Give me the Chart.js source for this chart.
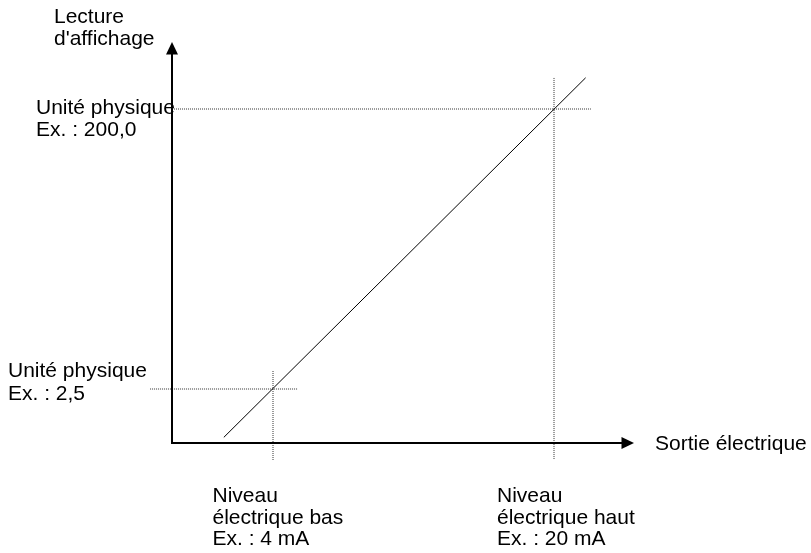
<!DOCTYPE html>
<html>
<head>
<meta charset="utf-8">
<script src="https://cdn.jsdelivr.net/npm/chart.js@4/dist/chart.umd.min.js"></script>
<style>
  body { margin: 0; background: #fff; }
  #wrap { width: 811px; height: 553px; }
</style>
</head>
<body>
<div id="wrap"><canvas id="myChart"></canvas></div>
<script>
// electrical level (mA) vs displayed value
const levelsMA = [4, 20];
const displayValues = [2.5, 200];
// transfer line (it runs a bit past both levels)
const lineX = [1.2, 21.8];
const lineY = [-31.6, 222];
// dotted guide extents
const hGuideX = [[-3.0, 5.4], [-1.75, 22.1]];
const vGuideY = [[15.2, -48.3], [221.9, -46.9]];
// axis ranges
const xRange = [-1.751, 24.555];
const yRange = [-35.59, 247.26];

const yTitle = ['Lecture', "d'affichage"];
const xTitle = ['Sortie électrique'];
const lowValueLabel = ['Unité physique', 'Ex. : 2,5'];
const highValueLabel = ['Unité physique', 'Ex. : 200,0'];
const lowLevelLabel = ['Niveau', 'électrique bas', 'Ex. : 4 mA'];
const highLevelLabel = ['Niveau', 'électrique haut', 'Ex. : 20 mA'];

const FONT = '21px "Liberation Sans", Arial, sans-serif';

const datasets = [{
  data: lineX.map((x, i) => ({x: x, y: lineY[i]})),
  showLine: true,
  borderColor: '#000',
  borderWidth: 1,
  pointRadius: 0,
  clip: false
}];
levelsMA.forEach((lvl, i) => {
  datasets.push({
    data: hGuideX[i].map(x => ({x: x, y: displayValues[i]})),
    showLine: true, borderColor: '#333', borderWidth: 1, borderDash: [1, 1],
    pointRadius: 0, clip: false
  });
  datasets.push({
    data: vGuideY[i].map(y => ({x: lvl, y: y})),
    showLine: true, borderColor: '#333', borderWidth: 1, borderDash: [1, 1],
    pointRadius: 0, clip: false
  });
});

function drawLines(ctx, lines, x, y, step) {
  lines.forEach((t, i) => ctx.fillText(t, x, y + i * step));
}

const axesPlugin = {
  id: 'axesPlugin',
  afterDatasetsDraw(chart) {
    const ctx = chart.ctx;
    const xs = chart.scales.x, ys = chart.scales.y;
    const x0 = xs.getPixelForValue(xRange[0]);
    const x1 = xs.getPixelForValue(xRange[1]);
    const y0 = ys.getPixelForValue(yRange[0]);
    const y1 = ys.getPixelForValue(yRange[1]);
    ctx.save();
    ctx.strokeStyle = '#000';
    ctx.fillStyle = '#000';
    ctx.lineWidth = 2;
    ctx.beginPath();
    ctx.moveTo(x0, y0 + 1);
    ctx.lineTo(x0, y1 + 10);
    ctx.moveTo(x0 - 1, y0);
    ctx.lineTo(x1 - 10, y0);
    ctx.stroke();
    // arrow heads
    ctx.beginPath();
    ctx.moveTo(x0, y1);
    ctx.lineTo(x0 - 6, y1 + 12.5);
    ctx.lineTo(x0 + 6, y1 + 12.5);
    ctx.closePath();
    ctx.fill();
    ctx.beginPath();
    ctx.moveTo(x1, y0);
    ctx.lineTo(x1 - 12.5, y0 - 6);
    ctx.lineTo(x1 - 12.5, y0 + 6);
    ctx.closePath();
    ctx.fill();

    // texts
    ctx.font = FONT;
    ctx.textAlign = 'left';
    ctx.textBaseline = 'alphabetic';
    drawLines(ctx, yTitle, 54, 22.5, 22.5);
    drawLines(ctx, xTitle, x1 + 21, y0 + 7, 22);
    const yLow = ys.getPixelForValue(displayValues[0]);
    const yHigh = ys.getPixelForValue(displayValues[1]);
    drawLines(ctx, lowValueLabel, 8, yLow - 12, 23);
    drawLines(ctx, highValueLabel, 36, yHigh + 5, 22);
    const xLow = xs.getPixelForValue(levelsMA[0]);
    const xHigh = xs.getPixelForValue(levelsMA[1]);
    drawLines(ctx, lowLevelLabel, xLow - 60.5, y0 + 59, 21.5);
    drawLines(ctx, highLevelLabel, xHigh - 57, y0 + 59, 21.5);
    ctx.restore();
  }
};

const config = {
  type: 'scatter',
  data: { datasets },
  options: {
    responsive: true,
    maintainAspectRatio: false,
    animation: false,
    events: [],
    layout: {
      padding: { left: 172, top: 42, right: 177, bottom: 110 }
    },
    plugins: {
      legend: { display: false },
      tooltip: { enabled: false }
    },
    scales: {
      x: { type: 'linear', min: xRange[0], max: xRange[1], display: false },
      y: { type: 'linear', min: yRange[0], max: yRange[1], display: false }
    }
  },
  plugins: [axesPlugin]
};

const myChart = new Chart(document.getElementById('myChart'), config);
</script>
</body>
</html>
